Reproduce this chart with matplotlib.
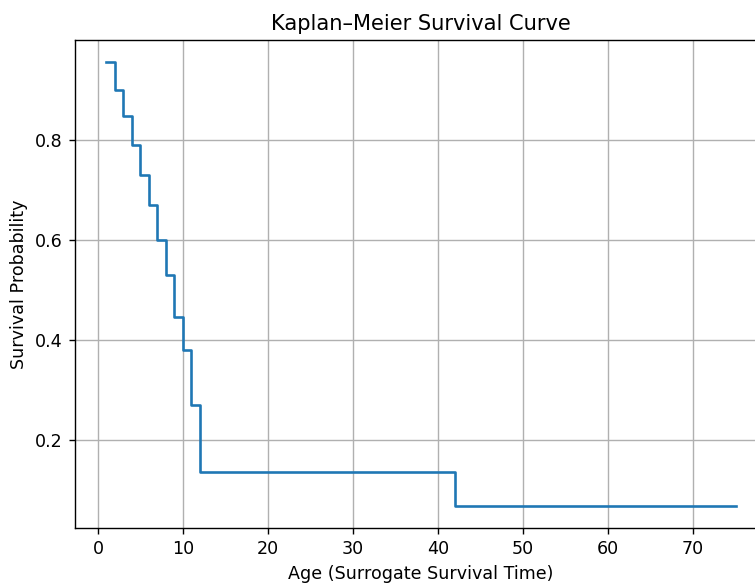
import matplotlib
matplotlib.use("Agg")
import matplotlib.pyplot as plt

# Kaplan-Meier estimate
times = [1, 2, 3, 4, 5, 6, 7, 8, 9, 10, 11, 12, 42, 75]
survival = [0.955, 0.900, 0.848, 0.790, 0.730, 0.670, 0.600, 0.530,
            0.446, 0.380, 0.270, 0.137, 0.069, 0.069]

DPI = 126
fig = plt.figure(figsize=(755 / DPI, 588 / DPI), dpi=DPI)
# the original image is cropped on the right, so the axes run past the edge
ax = fig.add_axes([75 / 755, 60 / 588, 692 / 755, 488 / 588])

ax.step(times, survival, where="post")

ax.set_title("Kaplan\u2013Meier Survival Curve")
ax.set_xlabel("Age (Surrogate Survival Time)")
ax.set_ylabel("Survival Probability")
ax.grid(True)

fig.savefig("out.png", dpi=DPI)
